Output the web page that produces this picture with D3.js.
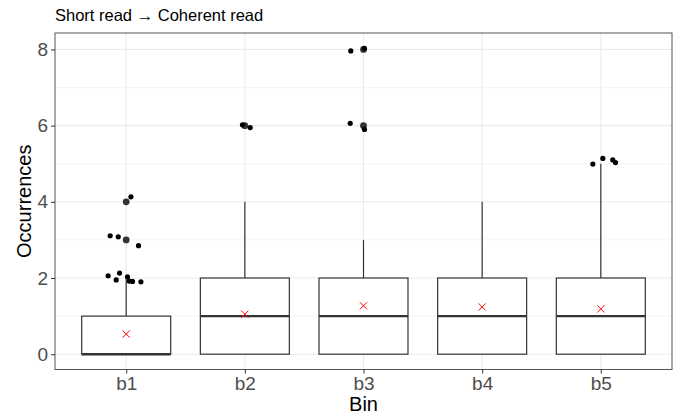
<!DOCTYPE html>
<html><head><meta charset="utf-8">
<script src="https://cdn.jsdelivr.net/npm/d3@7"></script>
<style>body{margin:0;background:#fff}svg{display:block}</style>
</head><body>
<svg id="c" width="683" height="414"></svg>
<script>
const bins = ["b1","b2","b3","b4","b5"];
const whiskerLow = [0,0,0,0,0];
const q1 = [0,0,0,0,0];
const median = [0,1,1,1,1];
const q3 = [1,2,2,2,2];
const whiskerHigh = [2,4,3,4,5];
const means = [0.53,1.05,1.27,1.24,1.19];
const yTicks = [0,2,4,6,8];
const yMinor = [1,3,5,7];
// boxplot outliers (drawn at category centre)
const outlierBin = ["b1","b1","b2","b3","b3"];
const outlierVal = [4,3,6,6,8];
// jittered points: bin, horizontal jitter (category units), value
const jitterBin = ["b1","b1","b1","b1","b1","b1","b1","b1","b1","b1","b1",
  "b2","b2","b3","b3","b3","b3","b5","b5","b5","b5"];
const jitterDx = [0.04,-0.135,-0.067,0.104,-0.152,-0.084,-0.056,0.011,0.025,0.053,0.124,
  -0.02,0.045,-0.107,0.008,-0.112,0.008,-0.067,0.017,0.101,0.124];
const jitterVal = [4.13,3.11,3.08,2.85,2.06,1.95,2.13,2.03,1.92,1.91,1.90,
  6.02,5.95,7.96,8.03,6.06,5.9,4.99,5.14,5.10,5.03];

const FONT = "Liberation Sans, Arial, sans-serif";
const svg = d3.select("#c");
const L=55, R=672, T=33, B=369.5;
const x = d3.scalePoint().domain(bins).range([L,R]).padding(0.6);
const step = x.step();
const y = d3.scaleLinear().domain([-0.4015, 8.4315]).range([B,T]);

// grid
const g = svg.append("g");
g.selectAll("line.ym").data(yMinor).join("line")
  .attr("x1",L).attr("x2",R).attr("y1",d=>y(d)).attr("y2",d=>y(d))
  .attr("stroke","#f3f3f3").attr("stroke-width",0.8);
g.selectAll("line.yM").data(yTicks).join("line")
  .attr("x1",L).attr("x2",R).attr("y1",d=>y(d)).attr("y2",d=>y(d))
  .attr("stroke","#ebebeb").attr("stroke-width",1.1);
g.selectAll("line.xM").data(bins).join("line")
  .attr("x1",d=>x(d)).attr("x2",d=>x(d)).attr("y1",T).attr("y2",B)
  .attr("stroke","#ebebeb").attr("stroke-width",1.1);

// boxes
const bw = step*0.75;
const stroke="#333";
bins.forEach((b,i)=>{
  const cx=x(b);
  g.append("line").attr("x1",cx).attr("x2",cx).attr("y1",y(q3[i])).attr("y2",y(whiskerHigh[i]))
    .attr("stroke",stroke).attr("stroke-width",1.2);
  g.append("line").attr("x1",cx).attr("x2",cx).attr("y1",y(q1[i])).attr("y2",y(whiskerLow[i]))
    .attr("stroke",stroke).attr("stroke-width",1.2);
  g.append("rect").attr("x",cx-bw/2).attr("width",bw)
    .attr("y",y(q3[i])).attr("height",y(q1[i])-y(q3[i]))
    .attr("fill","#fff").attr("stroke",stroke).attr("stroke-width",1.2);
  g.append("line").attr("x1",cx-bw/2).attr("x2",cx+bw/2).attr("y1",y(median[i])).attr("y2",y(median[i]))
    .attr("stroke",stroke).attr("stroke-width",2.4);
});
// outliers
g.selectAll("circle.o").data(outlierVal).join("circle")
  .attr("cx",(d,i)=>x(outlierBin[i])).attr("cy",d=>y(d)).attr("r",3.4)
  .attr("fill","#333");
// jitter
g.selectAll("circle.j").data(jitterVal).join("circle")
  .attr("cx",(d,i)=>x(jitterBin[i])+jitterDx[i]*step).attr("cy",d=>y(d)).attr("r",2.6)
  .attr("fill","#000");
// means
const ms=3.6;
bins.forEach((b,i)=>{
  const cx=x(b), cy=y(means[i]);
  g.append("path").attr("d",`M${cx-ms},${cy-ms}L${cx+ms},${cy+ms}M${cx-ms},${cy+ms}L${cx+ms},${cy-ms}`)
    .attr("stroke","#ff0000").attr("stroke-width",1);
});
// panel border
svg.append("rect").attr("x",L).attr("y",T).attr("width",R-L).attr("height",B-T)
  .attr("fill","none").attr("stroke","#555").attr("stroke-width",1);

// axes
const xa = svg.append("g").attr("transform",`translate(0,${B})`)
  .call(d3.axisBottom(x).tickSize(4).tickPadding(3));
const ya = svg.append("g").attr("transform",`translate(${L},0)`)
  .call(d3.axisLeft(y).tickValues(yTicks).tickSize(4).tickPadding(3));
[xa,ya].forEach(a=>{
  a.select(".domain").remove();
  a.selectAll(".tick line").attr("stroke","#333");
  a.selectAll(".tick text").attr("fill","#4d4d4d").style("font-family",FONT).style("font-size","19px");
});

svg.append("text").attr("x",(L+R)/2).attr("y",411).attr("text-anchor","middle")
  .style("font-family",FONT).style("font-size","20px").text("Bin");
svg.append("text").attr("transform",`translate(31,${(T+B)/2}) rotate(-90)`).attr("text-anchor","middle")
  .style("font-family",FONT).style("font-size","20px").text("Occurrences");
svg.append("text").attr("x",L).attr("y",21)
  .style("font-family",FONT).style("font-size","16.5px").text("Short read → Coherent read");
</script>
</body></html>
